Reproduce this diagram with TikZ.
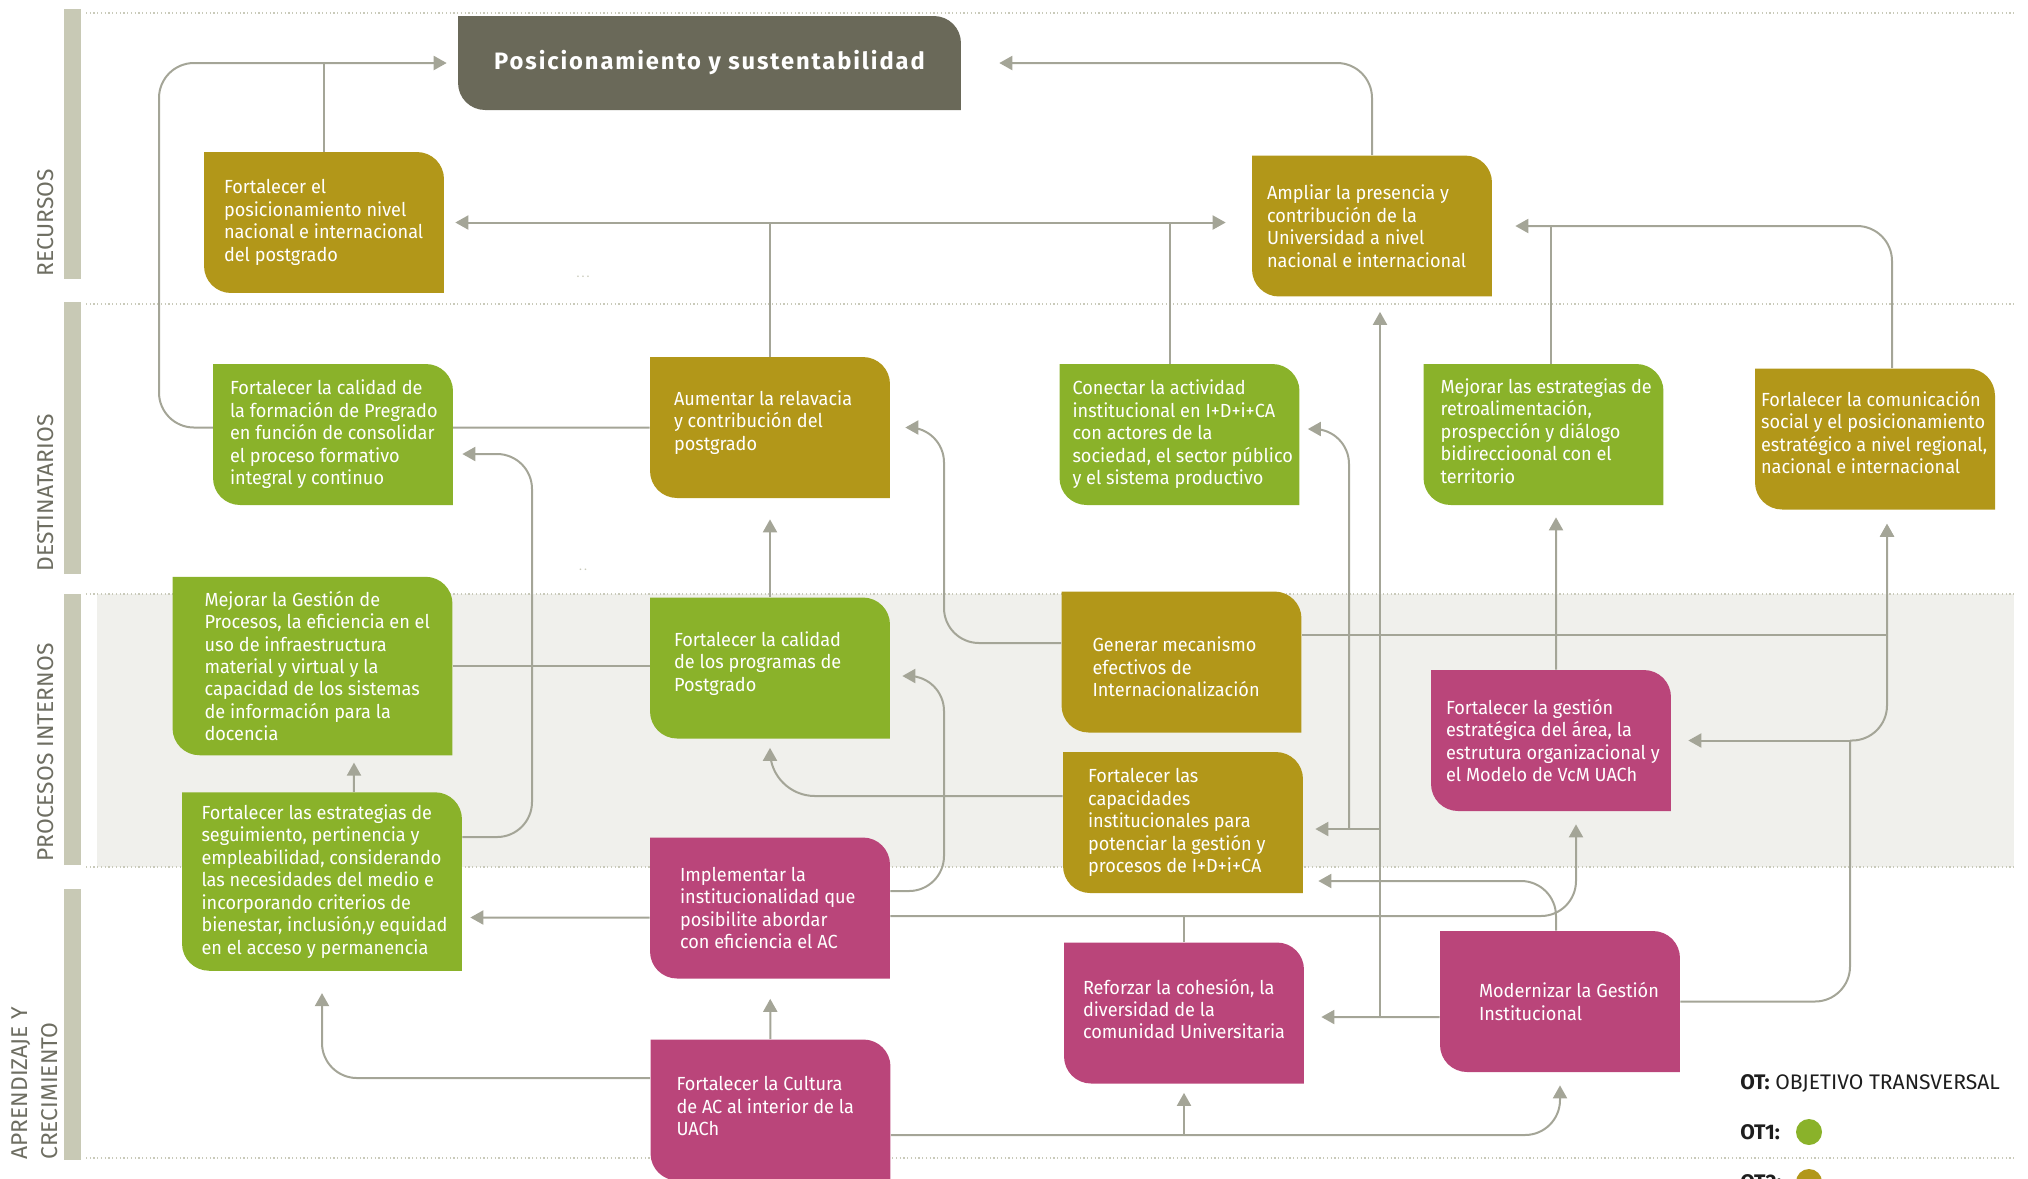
\documentclass[tikz,border=0pt]{standalone}
\usepackage{fontspec}
\setmainfont{Fira Sans}
\newfontfamily\cajafont{Fira Sans}[FakeStretch=0.955]
\usetikzlibrary{arrows.meta}

\definecolor{verde}{HTML}{8AB22A}
\definecolor{ocre}{HTML}{B29719}
\definecolor{rosa}{HTML}{BA457A}
\definecolor{oliva}{HTML}{6A6959}
\definecolor{barra}{HTML}{C8C9B5}
\definecolor{banda}{HTML}{F0F0EC}
\definecolor{linea}{HTML}{A4A597}
\definecolor{punto}{HTML}{C9CABA}
\definecolor{gristexto}{HTML}{6E6E62}
\definecolor{negro}{HTML}{1E1E1E}

\pgfdeclarelayer{fondo}
\pgfdeclarelayer{lineas}
\pgfsetlayers{fondo,lineas,main}

\tikzset{
  caja/.style={minimum width=4.8cm, minimum height=2.82cm, inner sep=0pt,
    path picture={\fill[#1] (path picture bounding box.north west)
      -- ([xshift=-0.54cm]path picture bounding box.north east)
      arc[start angle=90, end angle=0, radius=0.54cm]
      -- (path picture bounding box.south east)
      -- ([xshift=0.54cm]path picture bounding box.south west)
      arc[start angle=270, end angle=180, radius=0.54cm] -- cycle;}},
  ancha/.style={minimum width=5.6cm, minimum height=3.57cm},
  texto/.style={anchor=west, inner sep=0pt, align=left, text=white,
    font=\cajafont\fontsize{10.8}{12.8}\selectfont},
  conector/.style={draw=linea, line width=0.04cm, rounded corners=0.7cm},
  eje/.style={rotate=90, anchor=base west, inner sep=0pt, text=gristexto,
    font=\fontsize{13}{17}\selectfont},
  punteado/.style={draw=punto, line width=0.035cm, dash pattern=on 0.025cm off 0.05cm},
  leyenda/.style={anchor=west, inner sep=0pt, text=negro, font=\fontsize{12}{14}\selectfont},
}

\begin{document}
\begin{tikzpicture}[x=0.02cm, y=-0.02cm, >={Triangle[length=0.26cm, width=0.28cm]}]
    \useasboundingbox (0,0) rectangle (2028,1178);

    % Bands and side bars
    \begin{pgfonlayer}{fondo}
    \fill[banda] (97,594) rectangle (2014,867);
    \foreach \y in {13,304,594,867,1158}
        \draw[punteado] (86,\y) -- (2015,\y);
    \fill[barra] (64,9) rectangle (81,279);
    \fill[barra] (64,302) rectangle (81,574);
    \fill[barra] (64,594) rectangle (81,865);
    \fill[barra] (64,889) rectangle (81,1160);
    \end{pgfonlayer}

    % Band labels
    \node[eje] (recursos) at (53,277) {RECURSOS};
    \node[eje] (destinatarios) at (53,572) {DESTINATARIOS};
    \node[eje] (procesos) at (53,862) {PROCESOS INTERNOS};
    \node[eje, anchor=south west, align=left] (aprendizaje) at (58,1160) {APRENDIZAJE Y\\CRECIMIENTO};

    % Title
    \node[caja=oliva, minimum width=10.06cm, minimum height=1.88cm, text=white,
        font=\bfseries\fontsize{13.5}{16}\selectfont\addfontfeatures{LetterSpace=8}]
        (titulo) at (709.5,63) {Posicionamiento y sustentabilidad};

    % Recursos
    \node[caja=ocre, label={[texto, xshift=0.4cm]west:{Fortalecer el\\posicionamiento nivel\\nacional e internacional\\del postgrado}}] (posg) at (324,222.5) {};
    \node[caja=ocre, label={[texto, xshift=0.3cm]west:{Ampliar la presencia y\\contribución de la\\Universidad a nivel\\nacional e internacional}}] (ampliar) at (1372,226) {};

    % Destinatarios
    \node[caja=verde, label={[texto, xshift=0.34cm]west:{Fortalecer la calidad de\\la formación de Pregrado\\en función de consolidar\\el proceso formativo\\integral y continuo}}] (pregrado) at (333,434.5) {};
    \node[caja=ocre, label={[texto, xshift=0.48cm, yshift=0.1cm]west:{Aumentar la relavacia\\y contribución del\\postgrado}}] (aumentar) at (770,427.5) {};
    \node[caja=verde, label={[texto, xshift=0.26cm]west:{Conectar la actividad\\institucional en I+D+i+CA\\con actores de la\\sociedad, el sector público\\y el sistema productivo}}] (conectar) at (1179.5,434.5) {};
    \node[caja=verde, label={[texto, xshift=0.34cm, yshift=0.07cm]west:{Mejorar las estrategias de\\retroalimentación,\\prospección y diálogo\\bidireccioonal con el\\territorio}}] (retro) at (1543.5,434.5) {};
    \node[caja=ocre, label={[texto, xshift=0.12cm, yshift=0.13cm]west:{Forlalecer la comunicación\\social y el posicionamiento\\estratégico a nivel regional,\\nacional e internacional}}] (comunic) at (1875,439) {};

    % Procesos internos
    \node[caja=verde, ancha, label={[texto, xshift=0.64cm]west:{Mejorar la Gestión de\\Procesos, la eficiencia en el\\uso de infraestructura\\material y virtual y la\\capacidad de los sistemas\\de información para la\\docencia}}] (gestproc) at (312.5,666) {};
    \node[caja=verde, label={[texto, xshift=0.48cm, yshift=0.09cm]west:{Fortalecer la calidad\\de los programas de\\Postgrado}}] (calidadpg) at (770,668) {};
    \node[caja=ocre, label={[texto, xshift=0.62cm, yshift=-0.1cm]west:{Generar mecanismo\\efectivos de\\Internacionalización}}] (internac) at (1181.5,662) {};
    \node[caja=ocre, label={[texto, xshift=0.5cm]west:{Fortalecer las\\capacidades\\institucionales para\\potenciar la gestión y\\procesos de I+D+i+CA}}] (capac) at (1183,822.5) {};
    \node[caja=rosa, label={[texto, xshift=0.3cm]west:{Fortalecer la gestión\\estratégica del área, la\\estrutura organizacional y\\el Modelo de VcM UACh}}] (gestvcm) at (1551,740.5) {};
    \node[caja=verde, ancha, label={[texto, xshift=0.39cm]west:{Fortalecer las estrategias de\\seguimiento, pertinencia y\\empleabilidad, considerando\\las necesidades del medio e\\incorporando criterios de\\bienestar, inclusión,y equidad\\en el acceso y permanencia}}] (seguim) at (322,881.5) {};

    % Aprendizaje y crecimiento
    \node[caja=rosa, label={[texto, xshift=0.6cm]west:{Implementar la\\institucionalidad que\\posibilite abordar\\con eficiencia el AC}}] (implem) at (770,908) {};
    \node[caja=rosa, label={[texto, xshift=0.52cm, yshift=0.08cm]west:{Fortalecer la Cultura\\de AC al interior de la\\UACh}}] (cultura) at (770.5,1110) {};
    \node[caja=rosa, label={[texto, xshift=0.38cm, yshift=0.08cm]west:{Reforzar la cohesión, la\\diversidad de la\\comunidad Universitaria}}] (cohesion) at (1184,1013) {};
    \node[caja=rosa, label={[texto, xshift=0.78cm]west:{Modernizar la Gestión\\Institucional}}] (modern) at (1560,1001.5) {};

    % Stray dots
    \node[text=punto, font=\scriptsize] (puntos1) at (583,277) {.\,.\,.};
    \node[text=punto, font=\scriptsize] (puntos2) at (583,570) {.\,.};

    % Legend
    \node[leyenda] (ot) at (1740,1083) {\textbf{OT:} OBJETIVO TRANSVERSAL};
    \node[leyenda, font=\bfseries\fontsize{12}{14}\selectfont] (ot1) at (1740,1132) {OT1:};
    \fill[verde] (1809,1132) circle[radius=0.26cm];
    \node[leyenda, font=\bfseries\fontsize{12}{14}\selectfont] (ot2) at (1740,1182) {OT2:};
    \fill[ocre] (1809,1182) circle[radius=0.26cm];

    % Connectors
    \begin{pgfonlayer}{lineas}
    \coordinate (jAmp) at (1380,1017);
    \coordinate (jCap) at (1380,829);
    \coordinate (jCon) at (1349,829);
    \coordinate (jVcm) at (1850,740.5);
    \coordinate (jCul) at ([yshift=-0.5cm]cultura.east);

    % towards the title
    \draw[conector, ->, shorten >=0.22cm] (aumentar.west) -| (159,63) -- (titulo.west);
    \draw[conector] (posg.north) -- (posg.north |- titulo.west);
    \draw[conector, ->, shorten >=0.76cm] (ampliar.north) |- (titulo.east);

    % recursos row
    \draw[conector, <->, shorten <=0.22cm, shorten >=0.52cm] (posg.east) -- (posg.east -| ampliar.west);
    \draw[conector] (aumentar.north) -- (aumentar.north |- posg.east);
    \draw[conector] ([xshift=-0.2cm]conectar.north) -- ++(0,-141.5);
    \draw[conector, ->, shorten >=0.46cm] ([xshift=0.34cm]comunic.north) |- (ampliar.east);
    \draw[conector] ([xshift=0.15cm]retro.north) -- ++(0,-138);

    % destinatarios and procesos
    \draw[conector, ->, shorten >=0.42cm] (calidadpg) -- (aumentar);
    \draw[conector, ->, shorten >=0.18cm] ([yshift=0.89cm]seguim.east) -| (532,600) |- ([yshift=-0.39cm]pregrado.east);
    \draw[conector, ->, shorten >=0.14cm] ([xshift=0.64cm]seguim.north) -- ([xshift=0.83cm]gestproc.south);
    \draw[conector] (gestproc.east) -- (gestproc.east -| calidadpg.west);
    \draw[conector, ->, shorten >=0.16cm] ([yshift=-0.19cm]implem.west) -- ([yshift=-0.72cm]seguim.east);
    \draw[conector, ->, shorten >=0.24cm] ([yshift=0.34cm]implem.east) -| (944,780) |- ([yshift=-0.16cm]calidadpg.east);
    \draw[conector, ->, shorten >=0.3cm] ([yshift=0.38cm]internac.west) -| (944,520) |- (aumentar.east);
    \draw[conector, ->, shorten >=0.18cm, rounded corners=0.9cm] ([yshift=0.53cm]capac.west) -| (calidadpg.south);
    \draw[conector, ->, shorten >=0.26cm] ([yshift=-0.16cm]implem.east) -| ([xshift=0.5cm]gestvcm.south);
    \draw[conector] (cohesion.north) -- ++(0,-26);
    \draw[conector, ->, shorten >=0.3cm] ([xshift=-0.08cm]modern.north) |- ([yshift=-1.17cm]capac.east);
    \draw[conector, ->, shorten >=0.34cm] ([yshift=-0.31cm]modern.west) -- ([yshift=-0.08cm]cohesion.east);
    \draw[conector, ->, shorten >=0.3cm] (jAmp) -- (jAmp |- ampliar.south);
    \draw[conector, ->, shorten >=0.24cm] (jCap) -- (jCap -| capac.east);
    \draw[conector, ->, shorten >=0.16cm] (jCon) |- ([yshift=0.11cm]conectar.east);
    \draw[conector] (modern.east) -| (jVcm);
    \draw[conector, ->, shorten >=0.34cm] (jVcm) -- (gestvcm.east);
    \draw[conector, ->, shorten >=0.28cm] (jVcm) -| ([xshift=0.24cm]comunic.south);
    \draw[conector, ->, shorten >=0.28cm, sharp corners] ([yshift=0.54cm]internac.east) -| ([xshift=0.24cm]comunic.south);
    \draw[conector, ->, shorten >=0.24cm] ([xshift=0.1cm]gestvcm.north) -- ([xshift=0.25cm]retro.south);

    % aprendizaje row
    \draw[conector, ->, shorten >=0.4cm] (cultura) -- (implem);
    \draw[conector, ->, shorten >=0.44cm] ([yshift=0.64cm]cultura.west) -| (seguim.south);
    \draw[conector, ->, shorten >=0.26cm] (jCul) -| (modern.south);
    \draw[conector, ->, shorten >=0.18cm] (jCul -| cohesion.south) -- (cohesion.south);
    \end{pgfonlayer}
\end{tikzpicture}
\end{document}
